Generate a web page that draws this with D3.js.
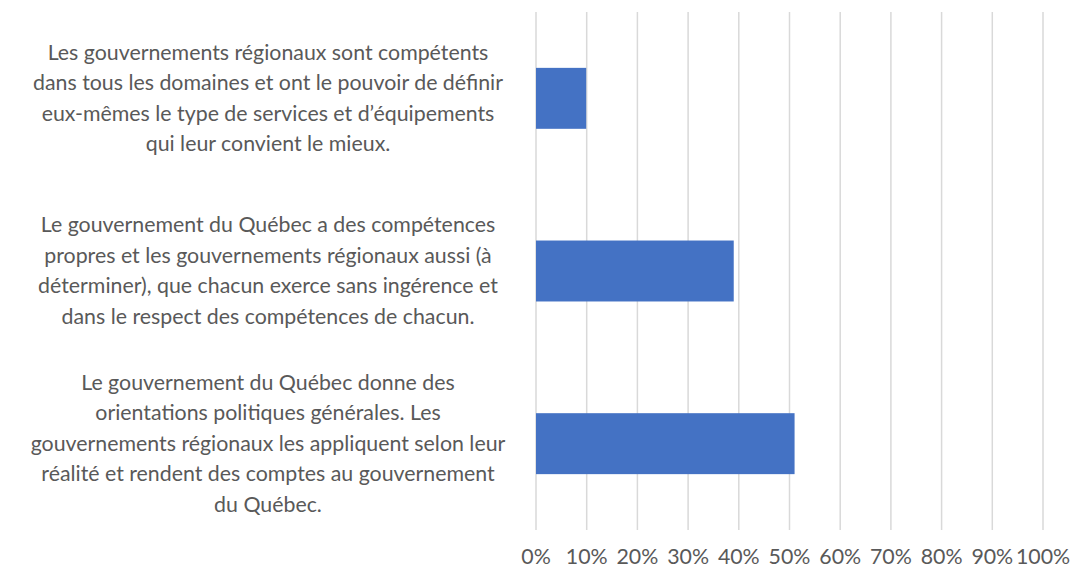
<!DOCTYPE html>
<html>
<head>
<meta charset="utf-8">
<script src="https://cdn.jsdelivr.net/npm/d3@7"></script>
<style>
  body { margin: 0; background: #fff; }
  text { font-family: Lato, "Open Sans", sans-serif; fill: #595959; }
</style>
</head>
<body>
<svg id="chart" width="1072" height="571"></svg>
<script>
// categories (top to bottom), each as its wrapped lines
const categories = [
  ['Les gouvernements régionaux sont compétents',
    'dans tous les domaines et ont le pouvoir de définir',
    'eux-mêmes le type de services et d’équipements',
    'qui leur convient le mieux.'],
  ['Le gouvernement du Québec a des compétences',
    'propres et les gouvernements régionaux aussi (à',
    'déterminer), que chacun exerce sans ingérence et',
    'dans le respect des compétences de chacun.'],
  ['Le gouvernement du Québec donne des',
    'orientations politiques générales. Les',
    'gouvernements régionaux les appliquent selon leur',
    'réalité et rendent des comptes au gouvernement',
    'du Québec.'],
];
const values = [0.099, 0.39, 0.51];
const ticks = [0, 0.1, 0.2, 0.3, 0.4, 0.5, 0.6, 0.7, 0.8, 0.9, 1];

const svg = d3.select('#chart');
const plotLeft = 536, plotRight = 1043, plotTop = 12, plotBottom = 530;

const x = d3.scaleLinear().domain([0, 1]).range([plotLeft, plotRight]);
const y = d3.scaleBand().domain(d3.range(categories.length))
  .range([plotTop, plotBottom]).paddingInner(0.647).paddingOuter(0.3235);

// pick a font size so the widest label line is about as wide as in the original
const probe = svg.append('text').attr('font-size', 20)
  .text('dans tous les domaines et ont le pouvoir de définir');
const fs = 20 * 470 / probe.node().getComputedTextLength();
probe.remove();

// gridlines
svg.append('g').selectAll('line')
  .data(ticks)
  .join('line')
  .attr('x1', (d) => x(d)).attr('x2', (d) => x(d))
  .attr('y1', plotTop).attr('y2', plotBottom)
  .attr('stroke', '#d9d9d9').attr('stroke-width', 1.5);

// bars
svg.append('g').selectAll('rect')
  .data(values)
  .join('rect')
  .attr('x', x(0))
  .attr('y', (d, i) => y(i))
  .attr('width', (d) => x(d) - x(0))
  .attr('height', y.bandwidth())
  .attr('fill', '#4472C4');

// tick labels
svg.append('g').selectAll('text')
  .data(ticks)
  .join('text')
  .attr('x', (d) => x(d))
  .attr('y', 564)
  .attr('text-anchor', 'middle')
  .attr('font-size', fs)
  .text((d) => d3.format('.0%')(d));

// category labels, centred on each band
const lineH = 30.5;
const labelX = 268;
const labels = svg.append('g');
categories.forEach((lines, i) => {
  const cy = y(i) + y.bandwidth() / 2;
  const t = labels.append('text')
    .attr('text-anchor', 'middle')
    .attr('font-size', fs);
  lines.forEach((ln, j) => {
    t.append('tspan')
      .attr('x', labelX)
      .attr('y', cy + (j - (lines.length - 1) / 2) * lineH + 7)
      .text(ln);
  });
});
</script>
</body>
</html>
